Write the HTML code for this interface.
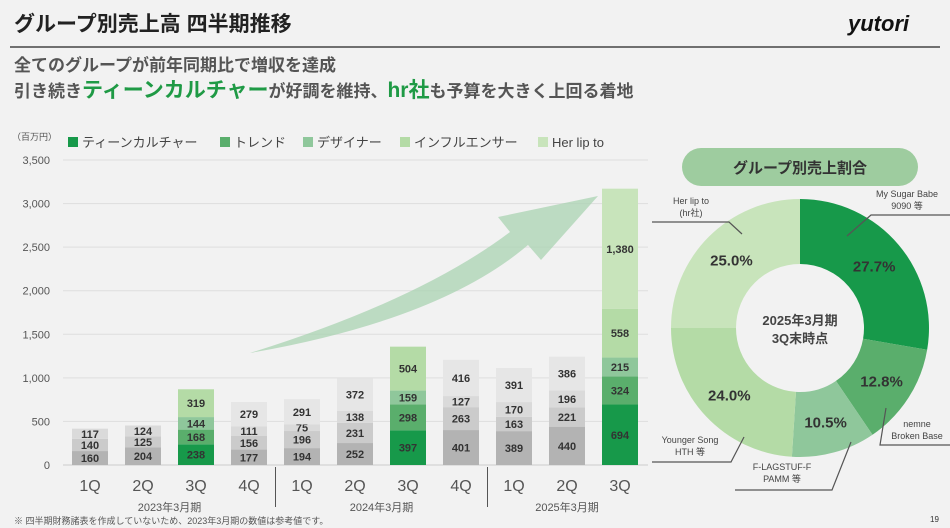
<!DOCTYPE html>
<html><head><meta charset="utf-8">
<style>
body{margin:0;background:#f2f2f2;font-family:"Liberation Sans","Noto Sans CJK JP",sans-serif;}
#wrap{position:relative;width:950px;height:528px;overflow:hidden;background:#f2f2f2;}
svg text{font-family:"Liberation Sans","Noto Sans CJK JP",sans-serif;}
</style></head>
<body>
<div id="wrap">
<svg id="svg" width="950" height="528" viewBox="0 0 950 528" xmlns="http://www.w3.org/2000/svg">
<text x="14" y="31" font-size="21" font-weight="bold" fill="#222">グループ別売上高 四半期推移</text>
<text x="848" y="31" font-size="22" font-weight="bold" fill="#111" font-style="italic">yutori</text>
<line x1="10" y1="47" x2="940" y2="47" stroke="#444" stroke-width="1.5"/>
<text x="14" y="71" font-size="17" font-weight="bold" fill="#555">全てのグループが前年同期比で増収を達成</text>
<text x="14" y="97" font-size="17" font-weight="bold" fill="#555">引き続き<tspan fill="#1f9a45" font-size="21">ティーンカルチャー</tspan>が好調を維持、<tspan fill="#1f9a45" font-size="21">hr社</tspan>も予算を大きく上回る着地</text>
<text x="12" y="140" font-size="9" fill="#555">（百万円）</text>
<g id="chart"></g>
<g id="donut"></g>
<text x="14" y="524" font-size="9" fill="#555">※ 四半期財務諸表を作成していないため、2023年3月期の数値は参考値です。</text>
<text x="930" y="522" font-size="8" fill="#333">19</text>
</svg>
</div>
<script>
const quarters=["1Q","2Q","3Q","4Q","1Q","2Q","3Q","4Q","1Q","2Q","3Q"];
const years=["2023年3月期","2024年3月期","2025年3月期"];
const seriesNames=["ティーンカルチャー","トレンド","デザイナー","インフルエンサー","Her lip to"];
const s1=[160,204,238,177,194,252,397,401,389,440,694];
const s2=[140,125,168,156,196,231,298,263,163,221,324];
const s3=[117,124,144,111,75,138,159,127,170,196,215];
const s4=[0,0,319,279,291,372,504,416,391,386,558];
const s5=[0,0,0,0,0,0,0,0,0,0,1380];
const highlighted=[false,false,true,false,false,false,true,false,false,false,true];
const yTicks=[0,500,1000,1500,2000,2500,3000,3500];
const pieLabels=["My Sugar Babe\n9090 等","nemne\nBroken Base","F-LAGSTUF-F\nPAMM 等","Younger Song\nHTH 等","Her lip to\n(hr社)"];
const pieValues=[27.7,12.8,10.5,24.0,25.0];

const NS="http://www.w3.org/2000/svg";
function mk(tag,attrs,parent){const e=document.createElementNS(NS,tag);for(const k in attrs)e.setAttribute(k,attrs[k]);parent.appendChild(e);return e;}
const greens=["#17994a","#5aae6c","#8fc79b","#b4dba6","#c8e4bb"];
const greys=["#b3b3b3","#cbcbcb","#dadada","#e6e6e6","#ececec"];
const y0=465,yTop=160,yMax=3500;
function Y(v){return y0-(v/yMax)*(y0-yTop);}
function X(i){return 90+i*53;}
const bw=36;
const chart=document.getElementById('chart');
yTicks.forEach(t=>{
 const l=mk('line',{x1:63,y1:Y(t),x2:648,y2:Y(t),stroke:t===0?'#ccc':'#dedede','stroke-width':1},chart);
 
 
 const tx=mk('text',{x:50,y:Y(t)+4,'font-size':11,fill:'#555','text-anchor':'end'},chart);
 tx.textContent=t.toLocaleString('en-US');
 
 
});
const ar=mk('path',{d:"M250 353 Q420 300 510 232 L498 217 L598 196 L541 260 L528 245 Q440 320 250 353 Z",fill:'#a9d3b2',opacity:0.75},chart);


const all=[s1,s2,s3,s4,s5];
quarters.forEach((q,i)=>{
 let acc=0;
 all.forEach((s,k)=>{
  const v=s[i]; if(!v) return;
  const yt=Y(acc+v),yb=Y(acc);
  const r=mk('rect',{x:X(i)-bw/2,y:yt,width:bw,height:yb-yt,fill:highlighted[i]?greens[k]:greys[k]},chart);
  
  
  const tx=mk('text',{x:X(i),y:(yt+yb)/2+4,'font-size':11,'font-weight':'bold',fill:'#333','text-anchor':'middle'},chart);
  tx.textContent=v.toLocaleString('en-US');
  
  
  acc+=v;
 });
 const ql=mk('text',{x:X(i),y:491,'font-size':16,fill:'#555','text-anchor':'middle'},chart);
 ql.textContent=q;
 
 
});
years.forEach((yy,j)=>{
 const t=mk('text',{x:(X(j*4)+X(Math.min(j*4+3,10)))/2,y:511,'font-size':11,fill:'#555','text-anchor':'middle'},chart);
 t.textContent=yy;
 
 
});
[0,1].forEach(j=>{
 const xs=(X(j*4+3)+X(j*4+4))/2;
 const l=mk('line',{x1:xs,y1:467,x2:xs,y2:507,stroke:'#555','stroke-width':1},chart);
 
 
});
const legendX=[68,220,303,400,538];
seriesNames.forEach((n,k)=>{
 const lx=legendX[k];
 const r=mk('rect',{x:lx,y:137,width:10,height:10,fill:greens[k]},chart);
 
 
 const t=mk('text',{x:lx+14,y:147,'font-size':13,fill:'#444'},chart);
 t.textContent=n;
 
 
});
const dn=document.getElementById('donut');
const pill=mk('rect',{x:682,y:148,width:236,height:38,rx:19,fill:'#9ecc9f'},dn);


const pt=mk('text',{x:800,y:173,'font-size':15,'font-weight':'bold',fill:'#333','text-anchor':'middle'},dn);
pt.textContent='グループ別売上割合';


const cx=800,cy=328,R=129,r0=64;
const pc=["#17994a","#5aae6c","#8fc79b","#b4dba6","#c8e4bb"];
const tot=pieValues.reduce((a,b)=>a+b,0);
let a0=-Math.PI/2;
const pos=(a,r)=>[cx+r*Math.cos(a),cy+r*Math.sin(a)];
pieValues.forEach((v,k)=>{
 const a1=a0+v/tot*2*Math.PI;
 const [x1,y1]=pos(a0,R),[x2,y2]=pos(a1,R),[x3,y3]=pos(a1,r0),[x4,y4]=pos(a0,r0);
 const lg=(a1-a0)>Math.PI?1:0;
 const p=mk('path',{d:`M${x1} ${y1} A${R} ${R} 0 ${lg} 1 ${x2} ${y2} L${x3} ${y3} A${r0} ${r0} 0 ${lg} 0 ${x4} ${y4} Z`,fill:pc[k]},dn);
 
 
 const am=(a0+a1)/2;const [tx,ty]=pos(am,97);
 const t=mk('text',{x:tx,y:ty+6,'font-size':15,'font-weight':'bold',fill:'#333','text-anchor':'middle'},dn);
 t.textContent=v.toFixed(1)+'%';
 
 
 a0=a1;
});
const ct=mk('text',{x:cx,y:325,'font-size':13,'font-weight':'bold',fill:'#444','text-anchor':'middle'},dn);
ct.textContent='2025年3月期';


const ct2=mk('text',{x:cx,y:343,'font-size':13,'font-weight':'bold',fill:'#444','text-anchor':'middle'},dn);
ct2.textContent='3Q末時点';


const callouts=[
 {tx:907,ty:197,path:"M847 236 L871 215 L950 215"},
 {tx:917,ty:427,path:"M886 408 L880 445 L950 445"},
 {tx:782,ty:470,path:"M851 442 L832 490 L735 490"},
 {tx:690,ty:443,path:"M744 437 L731 462 L652 462"},
 {tx:691,ty:204,path:"M742 234 L729 222 L652 222"}
];
pieLabels.forEach((lb,k)=>{
 const c=callouts[k];
 const l=mk('path',{d:c.path,fill:'none',stroke:'#555','stroke-width':1.2},dn);
 
 
 lb.split('\n').forEach((s,m)=>{
  const t=mk('text',{x:c.tx,y:c.ty+m*12,'font-size':9,fill:'#444','text-anchor':'middle'},dn);
  t.textContent=s;
  
  
 });
});
</script>
</body></html>
